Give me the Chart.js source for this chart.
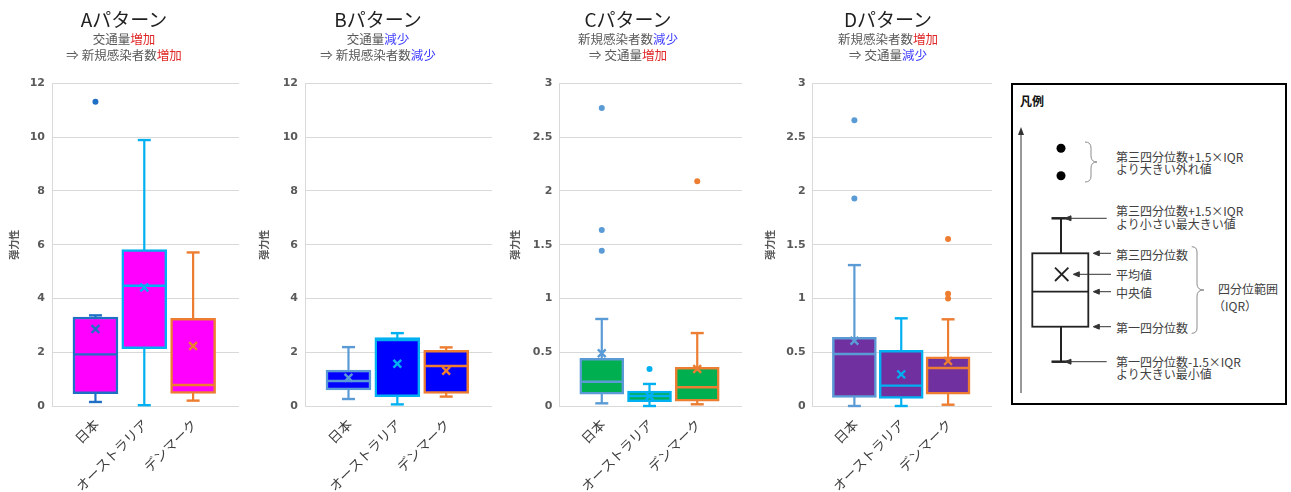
<!DOCTYPE html>
<html><head><meta charset="utf-8">
<script src="https://cdn.jsdelivr.net/npm/chart.js@4"></script>
<style>
html,body{margin:0;padding:0;background:#fff;}
#wrap{position:relative;width:1291px;height:492px;overflow:hidden;font-family:"Noto Sans CJK JP","Noto Sans",sans-serif;}
.pc{position:absolute;top:0;height:492px;width:250px;}
.ttl{position:absolute;width:220px;text-align:center;color:#1f1f1f;}
.ttl .m{font-size:19px;line-height:22px;position:absolute;top:8px;width:100%;}
.ttl .s{font-size:12.5px;line-height:15.5px;color:#595959;position:absolute;top:31px;width:100%;}
.up{color:#E02828;} .dn{color:#3B3BFF;}
#leg{position:absolute;left:1005px;top:75px;}
</style></head>
<body><div id="wrap">
<div class="pc" style="left:0px"><canvas id="cA"></canvas></div>
<div class="pc" style="left:250px"><canvas id="cB"></canvas></div>
<div class="pc" style="left:500px"><canvas id="cC"></canvas></div>
<div class="pc" style="left:750px"><canvas id="cD"></canvas></div>

<div class="ttl" style="left:14px"><div class="m">Aパターン</div><div class="s">交通量<span class="up">増加</span><br>⇒ 新規感染者数<span class="up">増加</span></div></div>
<div class="ttl" style="left:268px"><div class="m">Bパターン</div><div class="s">交通量<span class="dn">減少</span><br>⇒ 新規感染者数<span class="dn">減少</span></div></div>
<div class="ttl" style="left:518px"><div class="m">Cパターン</div><div class="s">新規感染者数<span class="dn">減少</span><br>⇒ 交通量<span class="up">増加</span></div></div>
<div class="ttl" style="left:778px"><div class="m">Dパターン</div><div class="s">新規感染者数<span class="up">増加</span><br>⇒ 交通量<span class="dn">減少</span></div></div>

<svg id="leg" width="286" height="340" xmlns="http://www.w3.org/2000/svg" font-family="Noto Sans CJK JP, sans-serif" font-size="12" fill="#404040">
  <rect x="7" y="9" width="274" height="320" fill="#fff" stroke="#000" stroke-width="2"/>
  <text x="15" y="25" dominant-baseline="central" font-weight="bold" fill="#111">凡例</text>
  <line x1="16" y1="58" x2="16" y2="318" stroke="#333" stroke-width="1"/>
  <polygon points="16,52 13,60 19,60" fill="#333"/>
  <circle cx="56" cy="73.3" r="4.5" fill="#000"/>
  <circle cx="56" cy="100.7" r="4.5" fill="#000"/>
  <path d="M80,67 Q86,67 86,73 L86,81 Q86,87 92,87 Q86,87 86,93 L86,101 Q86,107 80,107" fill="none" stroke="#8c8c8c" stroke-width="1"/>
  <text x="111" y="81" dominant-baseline="central">第三四分位数+1.5×IQR</text>
  <text x="111" y="93.5" dominant-baseline="central">より大きい外れ値</text>
  <line x1="46.5" y1="143.3" x2="66" y2="143.3" stroke="#222" stroke-width="2.5"/>
  <line x1="56" y1="143.3" x2="56" y2="178.3" stroke="#222" stroke-width="2"/>
  <rect x="27.3" y="178.3" width="56" height="73.4" fill="#fff" stroke="#222" stroke-width="1.8"/>
  <line x1="27.3" y1="216.7" x2="83.3" y2="216.7" stroke="#222" stroke-width="1.8"/>
  <line x1="50" y1="192.6" x2="63.4" y2="206" stroke="#222" stroke-width="1.8"/>
  <line x1="63.4" y1="192.6" x2="50" y2="206" stroke="#222" stroke-width="1.8"/>
  <line x1="56" y1="251.7" x2="56" y2="286.7" stroke="#222" stroke-width="2"/>
  <line x1="46.5" y1="286.7" x2="66" y2="286.7" stroke="#222" stroke-width="2.5"/>
  <g stroke="#333" stroke-width="1" fill="#333">
    <line x1="65" y1="143.3" x2="101.7" y2="143.3"/><polygon points="60,143.3 66,140.8 66,145.8"/>
    <line x1="93" y1="178.3" x2="106" y2="178.3"/><polygon points="88.3,178.3 94.3,175.8 94.3,180.8"/>
    <line x1="73" y1="199.3" x2="106" y2="199.3"/><polygon points="68.3,199.3 74.3,196.8 74.3,201.8"/>
    <line x1="93" y1="216.7" x2="106" y2="216.7"/><polygon points="88.3,216.7 94.3,214.2 94.3,219.2"/>
    <line x1="93" y1="251.7" x2="106" y2="251.7"/><polygon points="88.3,251.7 94.3,249.2 94.3,254.2"/>
    <line x1="65" y1="286.7" x2="101.7" y2="286.7"/><polygon points="60,286.7 66,284.2 66,289.2"/>
  </g>
  <text x="111" y="135" dominant-baseline="central">第三四分位数+1.5×IQR</text>
  <text x="111" y="148.5" dominant-baseline="central">より小さい最大きい値</text>
  <text x="111" y="179.3" dominant-baseline="central">第三四分位数</text>
  <text x="111" y="199.3" dominant-baseline="central">平均値</text>
  <text x="111" y="217.3" dominant-baseline="central">中央値</text>
  <text x="111" y="252.3" dominant-baseline="central">第一四分位数</text>
  <path d="M186.7,171.7 Q192,171.7 192,177 L192,209 Q192,215 199,215 Q192,215 192,221 L192,253 Q192,258.3 186.7,258.3" fill="none" stroke="#8c8c8c" stroke-width="1"/>
  <text x="213" y="213.5" dominant-baseline="central">四分位範囲</text>
  <text x="230" y="230" text-anchor="middle" dominant-baseline="central">（IQR）</text>
  <text x="111" y="286" dominant-baseline="central">第一四分位数-1.5×IQR</text>
  <text x="111" y="298" dominant-baseline="central">より大きい最小値</text>
</svg>
</div>
<script>
// ---- data ----
const categories = ['日本', 'オーストラリア', 'デンマーク'];
const yTicksAB = [0, 2, 4, 6, 8, 10, 12];
const yTicksCD = [0, 0.5, 1, 1.5, 2, 2.5, 3];

const A_min    = [0.15, 0.03, 0.20];
const A_q1     = [0.46, 2.13, 0.47];
const A_median = [1.92, 4.47, 0.78];
const A_q3     = [3.31, 5.82, 3.26];
const A_max    = [3.37, 9.89, 5.71];
const A_mean   = [2.86, 4.41, 2.23];
const A_out    = [[11.31], [], []];

const B_min    = [0.26, 0.06, 0.35];
const B_q1     = [0.60, 0.35, 0.47];
const B_median = [0.93, 2.45, 1.49];
const B_q3     = [1.34, 2.54, 2.07];
const B_max    = [2.19, 2.71, 2.18];
const B_mean   = [1.05, 1.57, 1.31];
const B_out    = [[], [], []];

const C_min    = [0.025, 0.0, 0.016];
const C_q1     = [0.109, 0.04, 0.045];
const C_median = [0.226, 0.093, 0.174];
const C_q3     = [0.443, 0.139, 0.36];
const C_max    = [0.809, 0.205, 0.678];
const C_mean   = [0.49, 0.09, 0.344];
const C_out    = [[2.77, 1.636, 1.443], [0.344], [2.09]];

const D_min    = [0.0, 0.0, 0.012];
const D_q1     = [0.08, 0.071, 0.109];
const D_median = [0.483, 0.189, 0.353];
const D_q3     = [0.638, 0.517, 0.458];
const D_max    = [1.31, 0.815, 0.806];
const D_mean   = [0.607, 0.294, 0.418];
const D_out    = [[2.657, 1.93], [], [1.552, 1.044, 1.0]];

// ---- styles ----
const edgeA = ['#1F6FC4', '#00B0F0', '#ED7D31'];
const edgeBCD = ['#5B9BD5', '#00B0F0', '#ED7D31'];

const panels = [
  {id:'cA', min:A_min, q1:A_q1, med:A_median, q3:A_q3, max:A_max, mean:A_mean, out:A_out, ticks:yTicksAB, fill:'#FF00FF', edge:edgeA, axisW:52, padR:11, titlePad:8, barW:45},
  {id:'cB', min:B_min, q1:B_q1, med:B_median, q3:B_q3, max:B_max, mean:B_mean, out:B_out, ticks:yTicksAB, fill:'#0000FF', edge:edgeBCD, axisW:55, padR:7.3, titlePad:8, barW:45},
  {id:'cC', min:C_min, q1:C_q1, med:C_median, q3:C_q3, max:C_max, mean:C_mean, out:C_out, ticks:yTicksCD, fill:'#00B050', edge:edgeBCD, axisW:59.3, padR:5, titlePad:9, barW:44},
  {id:'cD', min:D_min, q1:D_q1, med:D_median, q3:D_q3, max:D_max, mean:D_mean, out:D_out, ticks:yTicksCD, fill:'#7030A0', edge:edgeBCD, axisW:62.7, padR:4, titlePad:14, barW:44},
];

const whiskerPlugin = {
  id: 'whiskers',
  beforeDatasetsDraw(chart) {
    const p = chart.config.options.plugins.whiskers;
    const ys = chart.scales.y, xs = chart.scales.x, ctx = chart.ctx;
    ctx.save();
    ctx.lineWidth = 2.2;
    p.min.forEach((v, i) => {
      const x = xs.getPixelForValue(i);
      ctx.strokeStyle = p.edge[i];
      ctx.beginPath();
      ctx.moveTo(x, ys.getPixelForValue(p.min[i]));
      ctx.lineTo(x, ys.getPixelForValue(p.max[i]));
      ctx.stroke();
    });
    ctx.restore();
  },
  afterDatasetDraw(chart, args) {
    if (args.index !== 0) return;
    const p = chart.config.options.plugins.whiskers;
    const ys = chart.scales.y, xs = chart.scales.x, ctx = chart.ctx;
    const meta = chart.getDatasetMeta(0);
    ctx.save();
    p.min.forEach((v, i) => {
      const x = xs.getPixelForValue(i);
      const bar = meta.data[i];
      const w = bar.width;
      ctx.strokeStyle = p.edge[i];
      ctx.lineWidth = 2.4;
      const ym = ys.getPixelForValue(p.med[i]);
      ctx.beginPath(); ctx.moveTo(x - w/2 + 1, ym); ctx.lineTo(x + w/2 - 1, ym); ctx.stroke();
      [p.min[i], p.max[i]].forEach(val => {
        const yy = ys.getPixelForValue(val);
        ctx.beginPath(); ctx.moveTo(x - 6.5, yy); ctx.lineTo(x + 6.5, yy); ctx.stroke();
      });
    });
    ctx.restore();
  }
};

panels.forEach(P => {
  const boxData = categories.map((c, i) => ({x: i, y: [P.q1[i], P.q3[i]]}));
  const meanData = categories.map((c, i) => ({x: i, y: P.mean[i]}));
  const outData = [];
  P.out.forEach((arr, i) => arr.forEach(v => outData.push({x: i, y: v})));
  const step = P.ticks[1] - P.ticks[0];
  new Chart(document.getElementById(P.id), {
    type: 'bar',
    data: {
      datasets: [
        {type:'bar', data: boxData, backgroundColor: P.fill, borderColor: P.edge, borderWidth: 2.5,
         borderSkipped: false, barThickness: P.barW, order: 2},
        {type:'scatter', data: meanData, pointStyle: 'crossRot', pointRadius: 5.5, pointBorderWidth: 2.4,
         borderColor: P.edge, backgroundColor: P.edge, order: 1},
        {type:'scatter', data: outData, pointStyle: 'circle', pointRadius: 3, pointBorderWidth: 0,
         backgroundColor: ctx => P.edge[ctx.raw ? ctx.raw.x : 0], borderColor: ctx => P.edge[ctx.raw ? ctx.raw.x : 0], order: 0},
      ]
    },
    options: {
      responsive: true, maintainAspectRatio: false, animation: false,
      layout: {padding: {top: 83.3, right: P.padR, left: 0, bottom: 0}},
      plugins: {legend: {display: false}, tooltip: {enabled: false},
        whiskers: {min: P.min, max: P.max, med: P.med, edge: P.edge}},
      scales: {
        x: {type: 'linear', min: -0.89, max: 2.94, offset: false,
            afterBuildTicks: s => { s.ticks = categories.map((c, i) => ({value: i})); },
            afterFit: s => { s.height = 86; },
            grid: {display: false}, border: {display: false},
            ticks: {autoSkip: false, minRotation: 45, maxRotation: 45, padding: 2, labelOffset: 1, color: '#404040',
                    font: {family: '"Noto Sans CJK JP", sans-serif', size: 13.5},
                    callback: v => categories[v]}},
        y: {min: P.ticks[0], max: P.ticks[P.ticks.length - 1],
            afterFit: s => { s.width = P.axisW; },
            grid: {color: '#D9D9D9', lineWidth: 1, drawTicks: false},
            border: {display: true, color: '#D9D9D9', width: 1},
            ticks: {stepSize: step, padding: 7, color: '#595959', callback: v => String(v),
                    font: {family: '"DejaVu Sans", sans-serif', size: 11, weight: 'bold'}},
            title: {display: true, text: '弾力性', color: '#595959', padding: {top: P.titlePad, bottom: 0},
                    font: {family: '"Noto Sans CJK JP", sans-serif', size: 10, weight: 'bold'}}}
      }
    },
    plugins: [whiskerPlugin]
  });
});
</script>
</body></html>
